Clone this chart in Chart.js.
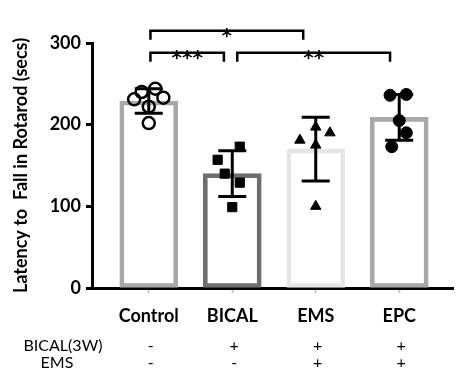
<!DOCTYPE html>
<html><head><meta charset="utf-8">
<script src="https://cdn.jsdelivr.net/npm/chart.js@4/dist/chart.umd.min.js"></script>
<style>html,body{margin:0;padding:0;background:#fff}#wrap{width:462px;height:371px}</style>
</head><body><div id="wrap"><canvas id="c" width="462" height="371"></canvas></div>
<script>
const categories = ['Control', 'BICAL', 'EMS', 'EPC'];
const means = [229, 140, 170, 209];
const sds = [15, 28, 39, 28];
const controlY = [231, 240, 244, 233, 222, 202];
const controlX = [-0.175, -0.085, 0.078, 0.175, 0, 0];
const bicalY = [173, 157, 140, 129, 99];
const bicalX = [0.09, -0.175, -0.09, 0.09, 0];
const emsY = [181, 197, 190, 175, 100];
const emsX = [-0.19, 0, 0.17, 0, 0];
const epcY = [236, 237, 205, 190, 173];
const epcX = [-0.11, 0.085, 0, 0.085, -0.09];
const yTicks = [0, 100, 200, 300];
const rowNames = ['BICAL(3W)', 'EMS'];
const bicalRow = ['-', '+', '+', '+'];
const emsRow = ['-', '-', '+', '+'];
const bracketFrom = [0.02, 0.02, 1.06];
const bracketTo = [1.85, 0.9, 2.89];
const bracketLevel = [315, 288, 288];
const bracketLabel = ['*', '***', '**'];
const barColors = ['#a8a8a8', '#6e6e6e', '#e6e6e6', '#a8a8a8'];
const FONT = 'Lato, "Open Sans", sans-serif';

function pts(xs, ys, c) { return ys.map((y, i) => ({x: c + xs[i], y})); }

const extras = {
  id: 'extras',
  afterDatasetDraw(chart, args) {
    if (args.index !== 0) return;
    const {ctx, scales: {x, y}} = chart;
    ctx.save();
    ctx.strokeStyle = '#000'; ctx.lineWidth = 3; ctx.lineCap = 'butt';
    means.forEach((m, i) => {
      const px = x.getPixelForValue(i);
      const top = y.getPixelForValue(m + sds[i]);
      const bot = y.getPixelForValue(m - sds[i]);
      ctx.beginPath();
      ctx.moveTo(px, top); ctx.lineTo(px, bot);
      ctx.moveTo(px - 14, top); ctx.lineTo(px + 14, top);
      ctx.moveTo(px - 14, bot); ctx.lineTo(px + 14, bot);
      ctx.stroke();
    });
    ctx.restore();
  },
  afterDraw(chart) {
    const {ctx, scales: {x, y}} = chart;
    ctx.save();
    ctx.strokeStyle = '#000'; ctx.lineWidth = 2.5; ctx.fillStyle = '#000';
    bracketFrom.forEach((f, i) => {
      const x1 = x.getPixelForValue(f), x2 = x.getPixelForValue(bracketTo[i]);
      const yl = y.getPixelForValue(bracketLevel[i]);
      const yd = y.getPixelForValue(bracketLevel[i] - 11);
      ctx.beginPath();
      ctx.moveTo(x1, yd); ctx.lineTo(x1, yl); ctx.lineTo(x2, yl); ctx.lineTo(x2, yd);
      ctx.stroke();
      ctx.font = 'bold 20px "DejaVu Sans", sans-serif';
      ctx.textAlign = 'center'; ctx.textBaseline = 'alphabetic';
      ctx.fillText(bracketLabel[i], (x1 + x2) / 2, yl + 11);
    });
    ctx.font = '16px ' + FONT;
    ctx.textAlign = 'center'; ctx.textBaseline = 'middle';
    const rows = [bicalRow, emsRow];
    const rowY = [346, 363];
    rows.forEach((r, j) => {
      ctx.fillText(rowNames[j], j === 0 ? 63 : 57, rowY[j]);
      r.forEach((s, i) => ctx.fillText(s, x.getPixelForValue(i) + 2, rowY[j]));
    });
    ctx.restore();
  }
};

new Chart(document.getElementById('c'), {
  type: 'bar',
  data: {
    datasets: [
      {type: 'bar', data: means.map((m, i) => ({x: i, y: m})), backgroundColor: 'rgba(255,255,255,0)',
       borderColor: barColors, borderWidth: 4, borderSkipped: false, barThickness: 58, order: 2},
      {type: 'scatter', data: pts(controlX, controlY, 0), pointStyle: 'circle', pointRadius: 6,
       pointBackgroundColor: 'rgba(255,255,255,0)', pointBorderColor: '#000', pointBorderWidth: 2.5, order: 1},
      {type: 'scatter', data: pts(bicalX, bicalY, 1), pointStyle: 'rect', pointRadius: 6.5,
       pointBackgroundColor: '#000', pointBorderColor: '#000', pointBorderWidth: 1, order: 1},
      {type: 'scatter', data: pts(emsX, emsY, 2), pointStyle: 'triangle', pointRadius: 6,
       pointBackgroundColor: '#000', pointBorderColor: '#000', pointBorderWidth: 1, order: 1},
      {type: 'scatter', data: pts(epcX, epcY, 3), pointStyle: 'circle', pointRadius: 6,
       pointBackgroundColor: '#000', pointBorderColor: '#000', pointBorderWidth: 1, order: 1}
    ]
  },
  options: {
    responsive: false, animation: false,
    layout: {padding: {top: 43, left: 0, right: 0, bottom: 0}},
    plugins: {legend: {display: false}, tooltip: {enabled: false}},
    scales: {
      x: {
        type: 'linear', min: -0.68, max: 3.65, offset: false,
        afterBuildTicks: s => { s.ticks = categories.map((c, i) => ({value: i})); },
        afterFit: s => { s.height = 83; },
        ticks: {callback: v => categories[v] ?? '', font: {family: FONT, size: 18, weight: 'bold'}, color: '#000', padding: 12},
        grid: {drawOnChartArea: false, tickLength: 5, color: '#bbb', tickWidth: 1.5, offset: false},
        border: {color: '#000', width: 3}
      },
      y: {
        min: 0, max: 300,
        afterBuildTicks: s => { s.ticks = yTicks.map(v => ({value: v})); },
        afterFit: s => { s.width = 92; },
        ticks: {font: {family: FONT, size: 18, weight: 'bold'}, color: '#000', padding: 5},
        grid: {drawOnChartArea: false, tickLength: 6, color: '#000', tickWidth: 3},
        border: {color: '#000', width: 3},
        title: {display: true, text: 'Latency to  Fall in Rotarod (secs)', color: '#000',
                font: {family: FONT, size: 18, weight: 'bold'}, padding: {top: 10, bottom: 0}}
      }
    }
  },
  plugins: [extras]
});
</script></body></html>
